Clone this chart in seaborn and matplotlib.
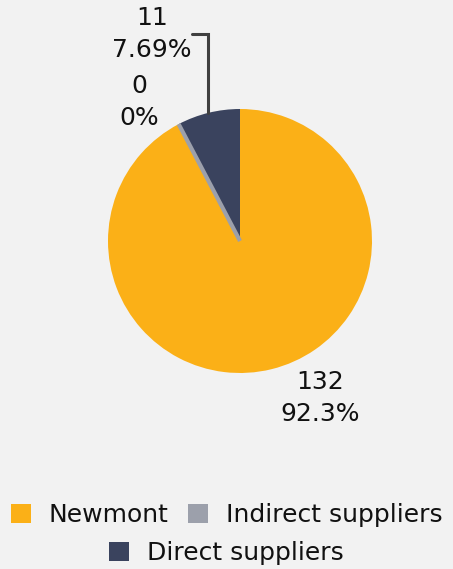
import numpy as np
import matplotlib
matplotlib.use("Agg")
import matplotlib.pyplot as plt
import seaborn as sns
from matplotlib.patches import Patch

# data
labels = ["Newmont", "Indirect suppliers", "Direct suppliers"]
values = [132, 0, 11]
colors = ["#fbb017", "#9ca0ab", "#3a435e"]

sns.set_theme(style="white")
plt.rcParams["font.family"] = ["DejaVu Sans"]

bg = "#f2f2f2"
W, H = 453, 569
fig = plt.figure(figsize=(W / 100, H / 100), dpi=100, facecolor=bg)

# pie centre (240, 241) px, radius 132 px
cx, cy, r = 240, 241, 132
ax = fig.add_axes([(cx - r) / W, (H - cy - r) / H, 2 * r / W, 2 * r / H])
ax.set_facecolor(bg)
ax.axis("off")

pal = sns.color_palette(colors)
wedges, _ = ax.pie(values, colors=pal, startangle=90, counterclock=False,
                   radius=1, wedgeprops=dict(linewidth=0))
wedges[1].set_edgecolor(colors[1])
wedges[1].set_linewidth(3)
wedges[1].set_zorder(5)
ax.set_xlim(-1, 1)
ax.set_ylim(-1, 1)
ax.set_aspect("equal")

total = sum(values)
pct = [v / total * 100 for v in values]
txt = [f"{v}\n{p:.3g}%" for v, p in zip(values, pct)]

fs = 18
label_pos = [(0.606, -1.19), (-0.765, 1.053), (-0.667, 1.568)]
for t, (x, y) in zip(txt, label_pos):
    ax.text(x, y, t, ha="center", va="center", fontsize=fs,
            color="#111111", linespacing=1.4)

# leader line for the direct suppliers label
ang = np.deg2rad(90 + pct[2] / 100 * 360 / 2)
ex, ey = np.cos(ang), np.sin(ang)
ax.plot([-0.366, ex, ex], [1.568, 1.568, ey], color="#404040", lw=2.2,
        clip_on=False, solid_joinstyle="miter")

handles = [Patch(facecolor=c, edgecolor="none") for c in colors]
leg_kw = dict(frameon=False, fontsize=fs, handlelength=0.8, handleheight=0.8,
              handletextpad=0.7, columnspacing=0.8, borderaxespad=0)
leg1 = fig.legend(handles[:2], labels[:2], ncol=2, loc="center",
                  bbox_to_anchor=(0.5, 1 - 515 / H), **leg_kw)
leg2 = fig.legend(handles[2:], labels[2:], ncol=1, loc="center",
                  bbox_to_anchor=(0.5, 1 - 553 / H), **leg_kw)
for leg in (leg1, leg2):
    for t in leg.get_texts():
        t.set_color("#111111")

fig.savefig("out.png", dpi=100, facecolor=bg)
